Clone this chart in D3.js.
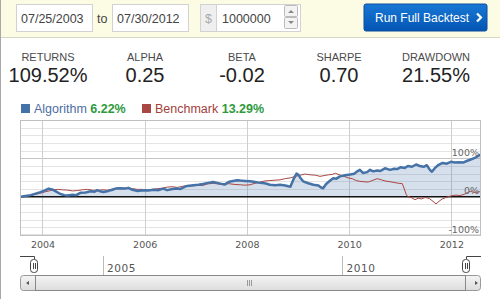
<!DOCTYPE html>
<html>
<head>
<meta charset="utf-8">
<script src="https://cdn.jsdelivr.net/npm/d3@7"></script>
<style>
  body { margin: 0; background: #fff; }
  svg { display: block; font-family: "Liberation Sans", Arial, sans-serif; }
</style>
</head>
<body>
<div id="chart"></div>
<script>
// backtest window
const startDate = "07/25/2003";
const endDate = "07/30/2012";
const capital = "1000000";

// summary stats
const statNames = ["RETURNS", "ALPHA", "BETA", "SHARPE", "DRAWDOWN"];
const statValues = ["109.52%", "0.25", "-0.02", "0.70", "21.55%"];

// legend
const seriesNames = ["Algorithm", "Benchmark"];
const seriesLegendPct = ["6.22%", "13.29%"];

// cumulative return (%) by decimal year
const algoYears = [2003.57, 2003.77, 2003.96, 2004.06, 2004.12, 2004.19, 2004.27, 2004.35, 2004.43, 2004.49,
  2004.59, 2004.66, 2004.74, 2004.84, 2004.94, 2005.02, 2005.07, 2005.13, 2005.19, 2005.29,
  2005.37, 2005.43, 2005.52, 2005.62, 2005.68, 2005.76, 2005.86, 2005.97, 2006.07, 2006.17,
  2006.27, 2006.36, 2006.44, 2006.54, 2006.64, 2006.70, 2006.77, 2006.83, 2006.95, 2007.05,
  2007.14, 2007.24, 2007.34, 2007.42, 2007.48, 2007.57, 2007.65, 2007.73, 2007.81, 2007.87,
  2007.96, 2008.06, 2008.16, 2008.26, 2008.35, 2008.45, 2008.55, 2008.65, 2008.75, 2008.81,
  2008.85, 2008.91, 2008.97, 2009.01, 2009.04, 2009.10, 2009.20, 2009.30, 2009.40, 2009.45,
  2009.49, 2009.55, 2009.63, 2009.69, 2009.75, 2009.82, 2009.92, 2010.02, 2010.10, 2010.16,
  2010.21, 2010.27, 2010.35, 2010.41, 2010.47, 2010.55, 2010.61, 2010.70, 2010.80, 2010.88,
  2010.94, 2011.01, 2011.09, 2011.15, 2011.23, 2011.31, 2011.38, 2011.46, 2011.52, 2011.58,
  2011.62, 2011.68, 2011.74, 2011.83, 2011.91, 2011.99, 2012.07, 2012.15, 2012.23, 2012.30,
  2012.38, 2012.46, 2012.52, 2012.57];
const algoReturns = [0, 4, 12, 17, 21, 19, 13, 7, 4, 3,
  5, 4, 10, 11, 14, 13, 17, 14, 12, 15,
  18, 21, 22, 21, 23, 18, 15, 17, 16, 18,
  17, 21, 17, 20, 21, 20, 25, 28, 30, 31,
  33, 36, 38, 36, 34, 32, 39, 41, 43, 42,
  41, 40, 38, 36, 35, 31, 30, 31, 29, 27,
  26, 45, 60, 57, 50, 40, 35, 31, 29, 24,
  22, 33, 42, 48, 47, 53, 56, 58, 60, 66,
  70, 62, 64, 70, 66, 68, 67, 74, 70, 73,
  72, 77, 75, 80, 78, 84, 80, 78, 82, 70,
  65, 75, 82, 88, 86, 91, 89, 90, 89, 93,
  97, 101, 106, 109.52];

const benchYears = [2003.57, 2003.77, 2003.96, 2004.06, 2004.16, 2004.29, 2004.39, 2004.49, 2004.59, 2004.69,
  2004.78, 2004.88, 2004.98, 2005.07, 2005.17, 2005.27, 2005.37, 2005.47, 2005.56, 2005.66,
  2005.76, 2005.86, 2005.95, 2006.05, 2006.15, 2006.25, 2006.35, 2006.44, 2006.54, 2006.64,
  2006.74, 2006.83, 2006.93, 2007.03, 2007.13, 2007.22, 2007.34, 2007.44, 2007.54, 2007.64,
  2007.75, 2007.87, 2007.96, 2008.06, 2008.16, 2008.26, 2008.35, 2008.45, 2008.55, 2008.65,
  2008.75, 2008.85, 2008.95, 2009.04, 2009.14, 2009.24, 2009.34, 2009.43, 2009.51, 2009.59,
  2009.67, 2009.73, 2009.83, 2009.90, 2009.98, 2010.06, 2010.14, 2010.21, 2010.29, 2010.37,
  2010.45, 2010.55, 2010.63, 2010.70, 2010.80, 2010.88, 2010.96, 2011.04, 2011.08, 2011.12,
  2011.15, 2011.21, 2011.29, 2011.35, 2011.41, 2011.49, 2011.57, 2011.62, 2011.66, 2011.70,
  2011.76, 2011.82, 2011.88, 2011.94, 2012.02, 2012.09, 2012.17, 2012.25, 2012.31, 2012.37,
  2012.45, 2012.52, 2012.57];
const benchReturns = [0, 3, 9, 13, 16, 19, 18, 17, 15, 16,
  18, 19, 17, 16, 18, 17, 20, 22, 21, 23,
  21, 19, 19, 17, 19, 21, 22, 25, 26, 24,
  27, 29, 28, 30, 29, 33, 35, 33, 31, 34,
  32, 31, 30, 31, 35, 38, 41, 42, 43, 44,
  47, 49, 53, 56, 59, 57, 56, 53, 55, 57,
  58, 61, 56, 53, 49, 47, 42, 40, 39, 38,
  42, 47, 44, 41, 39, 37, 35, 34, 20, 5,
  0, -2, -8, -4, -6, -2, -5, -10, -14, -19,
  -12, -6, -3, 0, 3, 4, 3, 6, 10, 14,
  11, 12, 13.29];

// axis ticks
const yearTicks = [2004, 2006, 2008, 2010, 2012];
const navTicks = [2005, 2010];
const pctMajor = [100, 0, -100];
const pctLabels = ["100%", "0%", "-100%"];

const algoColor = "#4572a7";
const benchColor = "#aa4643";

const W = 500, H = 299;
const svg = d3.select("#chart").append("svg").attr("width", W).attr("height", H);

// ---------- header bar ----------
svg.append("rect").attr("x", 0).attr("y", 0).attr("width", W).attr("height", 38).attr("fill", "#fcfbe3");
svg.append("line").attr("x1", 0).attr("x2", W).attr("y1", 37.5).attr("y2", 37.5).attr("stroke", "#d9d7c4");

function inputBox(x, w, txt) {
  svg.append("rect").attr("x", x + 0.5).attr("y", 4.5).attr("width", w).attr("height", 27)
    .attr("fill", "#fff").attr("stroke", "#d2d2d2");
  svg.append("text").attr("x", x + 5).attr("y", 22.5).attr("font-size", 12.5).attr("fill", "#444").text(txt);
}
inputBox(16, 76, startDate);
svg.append("text").attr("x", 97).attr("y", 22.5).attr("font-size", 12.5).attr("fill", "#444").text("to");
inputBox(112, 76, endDate);

// $ addon + amount
svg.append("rect").attr("x", 200.5).attr("y", 4.5).attr("width", 100).attr("height", 27)
  .attr("fill", "#fff").attr("stroke", "#d2d2d2");
svg.append("rect").attr("x", 200.5).attr("y", 4.5).attr("width", 16).attr("height", 27)
  .attr("fill", "#efefef").attr("stroke", "#d2d2d2");
svg.append("text").attr("x", 208.5).attr("y", 22.5).attr("text-anchor", "middle").attr("font-size", 12.5)
  .attr("fill", "#aaa").text("$");
svg.append("text").attr("x", 222).attr("y", 22.5).attr("font-size", 12.5).attr("fill", "#444").text(capital);
// spinner
[[5.5, "M288,13 L291,10 L294,13"], [17.5, "M288,21 L291,24 L294,21"]].forEach(([yy, p]) => {
  svg.append("rect").attr("x", 284.5).attr("y", yy).attr("width", 13).attr("height", 11)
    .attr("fill", "#f3f3f3").attr("stroke", "#bbb").attr("rx", 1);
  svg.append("path").attr("d", p).attr("fill", "#888");
});

// button
const grad = svg.append("defs").append("linearGradient").attr("id", "btn").attr("x1", 0).attr("x2", 0).attr("y1", 0).attr("y2", 1);
grad.append("stop").attr("offset", "0%").attr("stop-color", "#1878d6");
grad.append("stop").attr("offset", "100%").attr("stop-color", "#0455b2");
svg.append("rect").attr("x", 364).attr("y", 4).attr("width", 123).attr("height", 27).attr("rx", 2)
  .attr("fill", "url(#btn)").attr("stroke", "#0a4f9e");
svg.append("text").attr("x", 375).attr("y", 22).attr("font-size", 12).attr("fill", "#fff").text("Run Full Backtest");
svg.append("path").attr("d", "M477,13.5 L481,17.5 L477,21.5").attr("fill", "none")
  .attr("stroke", "#fff").attr("stroke-width", 2.2);

// left border
svg.append("line").attr("x1", 0.5).attr("x2", 0.5).attr("y1", 0).attr("y2", H).attr("stroke", "#a8a8a8");

// ---------- stats ----------
const statX = d3.scalePoint().domain(statNames).range([48, 436]);
statNames.forEach((n, i) => {
  svg.append("text").attr("x", statX(n)).attr("y", 61).attr("text-anchor", "middle")
    .attr("font-size", 11).attr("fill", "#4a4a4a").text(n);
  svg.append("text").attr("x", statX(n)).attr("y", 82).attr("text-anchor", "middle")
    .attr("font-size", 20).attr("fill", "#222").text(statValues[i]);
});

// ---------- legend ----------
const legendX = [21, 142];
const legendColors = [algoColor, benchColor];
const legendText = ["#4d6da3", "#a23f3c"];
seriesNames.forEach((n, i) => {
  svg.append("rect").attr("x", legendX[i]).attr("y", 104).attr("width", 9).attr("height", 9).attr("fill", legendColors[i]);
  const t = svg.append("text").attr("x", legendX[i] + 13).attr("y", 113).attr("font-size", 12.5);
  t.append("tspan").attr("fill", legendText[i]).text(n + " ");
  t.append("tspan").attr("fill", "#2f9a3d").attr("font-weight", "bold").text(seriesLegendPct[i]);
});

// ---------- main plot ----------
const x = d3.scaleLinear().domain([2003.56, 2012.58]).range([20, 481]);
const y = d3.scaleLinear().domain([-100, 200]).range([235, 120]);

const plot = svg.append("g");
plot.append("rect").attr("x", 20).attr("y", 120).attr("width", 461).attr("height", 115).attr("fill", "#fff");

// minor grid every 20%
const minor = d3.range(-100, 201, 20).filter(v => v % 100 !== 0);
plot.selectAll(".minor").data(minor).enter().append("line")
  .attr("x1", 20).attr("x2", 481).attr("y1", d => Math.round(y(d)) + 0.5).attr("y2", d => Math.round(y(d)) + 0.5)
  .attr("stroke", "#e4e4e4");
plot.selectAll(".major").data([100, -100]).enter().append("line")
  .attr("x1", 20).attr("x2", 481).attr("y1", d => Math.round(y(d)) + 0.5).attr("y2", d => Math.round(y(d)) + 0.5)
  .attr("stroke", "#c4c4c4");
plot.selectAll(".vgrid").data(yearTicks).enter().append("line")
  .attr("x1", d => Math.round(x(d)) + 0.5).attr("x2", d => Math.round(x(d)) + 0.5)
  .attr("y1", 120).attr("y2", 235).attr("stroke", "#cfcfcf");

const algo = algoYears.map((d, i) => [d, algoReturns[i]]);
const bench = benchYears.map((d, i) => [d, benchReturns[i]]);

plot.append("path").datum(algo)
  .attr("d", d3.area().x(d => x(d[0])).y0(y(0)).y1(d => y(d[1])))
  .attr("fill", algoColor).attr("fill-opacity", 0.22);

plot.append("line").attr("x1", 20).attr("x2", 481).attr("y1", y(0)).attr("y2", y(0))
  .attr("stroke", "#111").attr("stroke-width", 1.5);

const line = d3.line().x(d => x(d[0])).y(d => y(d[1]));
plot.append("path").datum(bench).attr("d", line).attr("fill", "none")
  .attr("stroke", benchColor).attr("stroke-width", 1);
plot.append("path").datum(algo).attr("d", line).attr("fill", "none")
  .attr("stroke", algoColor).attr("stroke-width", 2.5).attr("stroke-linejoin", "round");

pctMajor.forEach((v, i) => {
  plot.append("text").attr("x", 479).attr("y", y(v) - 2.5).attr("text-anchor", "end")
    .attr("font-family", "DejaVu Sans").attr("font-size", 9.5).attr("fill", "#666").text(pctLabels[i]);
});

plot.append("rect").attr("x", 20.5).attr("y", 120.5).attr("width", 460).attr("height", 114.5)
  .attr("fill", "none").attr("stroke", "#c0c0c0");

const xAxis = plot.append("g").attr("transform", "translate(0,235)")
  .call(d3.axisBottom(x).tickValues(yearTicks).tickFormat(d3.format("d")).tickSize(0).tickPadding(6));
xAxis.select(".domain").remove();
xAxis.selectAll("text").attr("font-family", "DejaVu Sans").attr("font-size", 9.5).attr("fill", "#555");

// ---------- navigator ----------
const nx = d3.scaleLinear().domain([2003.56, 2012.58]).range([34, 466]);
const nav = svg.append("g");
nav.selectAll(".nt").data(navTicks).enter().append("line")
  .attr("x1", d => Math.round(nx(d)) + 0.5).attr("x2", d => Math.round(nx(d)) + 0.5)
  .attr("y1", 256).attr("y2", 275).attr("stroke", "#bbb");
nav.selectAll(".nl").data(navTicks).enter().append("text")
  .attr("x", d => nx(d) + 4).attr("y", 272).attr("font-family", "DejaVu Sans").attr("font-size", 10.5)
  .attr("fill", "#555").attr("letter-spacing", 0.6).text(d => d);

nav.append("path").attr("d", `M20,256.5 H${nx.range()[0] + 0.5} V259`).attr("fill", "none").attr("stroke", "#444");
nav.append("path").attr("d", `M481,256.5 H${nx.range()[1] + 0.5} V259`).attr("fill", "none").attr("stroke", "#444");

// scrollbar
const sg = svg.select("defs").append("linearGradient").attr("id", "sb").attr("x1", 0).attr("x2", 0).attr("y1", 0).attr("y2", 1);
sg.append("stop").attr("offset", "0%").attr("stop-color", "#f4f4f4");
sg.append("stop").attr("offset", "100%").attr("stop-color", "#dcdcdc");
nav.append("rect").attr("x", 20.5).attr("y", 275.5).attr("width", 460).attr("height", 15).attr("rx", 3)
  .attr("fill", "url(#sb)").attr("stroke", "#999");
nav.append("rect").attr("x", 35.5).attr("y", 275.5).attr("width", 430).attr("height", 15)
  .attr("fill", "url(#sb)").attr("stroke", "#888");
nav.append("path").attr("d", "M29,281 L26,283 L29,285 Z").attr("fill", "#555");
nav.append("path").attr("d", "M475,281 L478,283 L475,285 Z").attr("fill", "#555");
[247.5, 249.5, 251.5].forEach(gx => {
  nav.append("line").attr("x1", gx).attr("x2", gx).attr("y1", 280).attr("y2", 286).attr("stroke", "#999");
});

// handles
nx.range().forEach(hx => {
  nav.append("rect").attr("x", hx - 3.5).attr("y", 259.5).attr("width", 7).attr("height", 13).attr("rx", 3)
    .attr("fill", "#fff").attr("stroke", "#444");
  [hx - 1, hx + 1].forEach(lx => {
    nav.append("line").attr("x1", lx + 0.5).attr("x2", lx + 0.5).attr("y1", 263).attr("y2", 269).attr("stroke", "#444");
  });
});
</script>
</body>
</html>
